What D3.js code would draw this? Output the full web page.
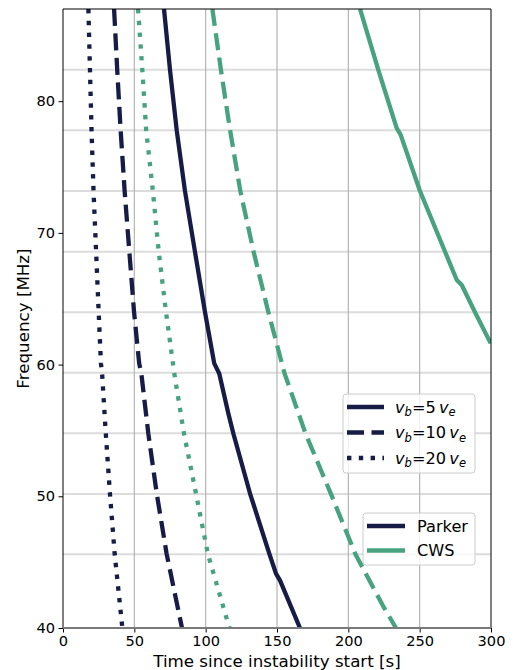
<!DOCTYPE html>
<html>
<head>
<meta charset="utf-8">
<script src="https://cdn.jsdelivr.net/npm/d3@7"></script>
<style>
  body { margin: 0; background: #fff; }
  text { font-family: "DejaVu Sans", sans-serif; fill: #000; }
</style>
</head>
<body>
<div id="chart-area"></div>
<script>
const MARGIN = { LEFT: 63, RIGHT: 23, TOP: 9, BOTTOM: 42 }
const WIDTH = 514 - MARGIN.LEFT - MARGIN.RIGHT
const HEIGHT = 670 - MARGIN.TOP - MARGIN.BOTTOM

const NAVY = "#161c46"
const GREEN = "#47a27f"

// [time s, frequency MHz]
const parker5 = [[70.8, 87], [75.0, 82.38], [79.7, 77.8], [85.5, 73.18], [92.5, 68.57], [99.5, 64.0],
  [106.0, 60.09], [109.5, 59.33], [115.9, 56.29], [119.4, 54.77], [131.1, 50.21], [144.6, 45.65],
  [149.3, 44.13], [152.1, 43.62], [166.1, 40]]
const parker10 = [[35.8, 87], [38.0, 82.38], [40.4, 77.8], [43.2, 73.18], [46.5, 68.57], [49.8, 64.0],
  [53.4, 60.09], [54.9, 59.33], [59.8, 54.77], [65.7, 50.21], [72.6, 45.65], [83.4, 40]]
const parker20 = [[17.8, 87], [18.9, 82.38], [20.0, 77.8], [21.4, 73.18], [23.2, 68.57], [25.0, 64.0],
  [26.6, 60.09], [27.4, 59.33], [30.0, 54.77], [32.9, 50.21], [36.2, 45.65], [41.6, 40]]
const cws5 = [[208.2, 87], [221.0, 82.38], [233.9, 77.95], [236.7, 77.44], [250.2, 73.18], [267.8, 68.57],
  [276.0, 66.42], [279.5, 66.04], [288.8, 63.97], [299.8, 61.61]]
const cws10 = [[104.7, 87], [110.7, 82.38], [117.1, 77.8], [124.3, 73.18], [133.6, 68.57], [143.9, 64.0],
  [155.3, 59.33], [170.0, 54.77], [187.8, 50.18], [205.0, 45.6], [224.1, 41.72], [233.4, 40]]
const cws20 = [[52.6, 87], [55.6, 82.38], [58.3, 77.8], [63.0, 73.18], [67.1, 68.57], [72.2, 64.0],
  [78.0, 59.33], [84.8, 54.77], [93.2, 50.21], [101.6, 45.6], [115.4, 40.46], [116.8, 40]]

const xTicks = [0, 50, 100, 150, 200, 250, 300]
const yTicks = [40, 50, 60, 70, 80]
// light horizontal grid (secondary axis)
const hGrid = [82.38, 77.8, 73.18, 68.57, 63.97, 59.38, 54.79, 50.18, 45.6]

const series = [
  { data: parker5, color: NAVY, dash: null },
  { data: parker10, color: NAVY, dash: "17,7.5" },
  { data: parker20, color: NAVY, dash: "4.4,7.4" },
  { data: cws5, color: GREEN, dash: null },
  { data: cws10, color: GREEN, dash: "17,7.5" },
  { data: cws20, color: GREEN, dash: "4.4,7.4" }
]

const svg = d3.select("#chart-area").append("svg")
  .attr("width", 514)
  .attr("height", 670)

const g = svg.append("g")
  .attr("transform", `translate(${MARGIN.LEFT}, ${MARGIN.TOP})`)

// scales
const x = d3.scaleLinear().domain([0, 300]).range([0, WIDTH])
const y = d3.scaleLinear().domain([40, 87]).range([HEIGHT, 0])

svg.append("defs").append("clipPath").attr("id", "plot-clip")
  .append("rect").attr("width", WIDTH).attr("height", HEIGHT)

// grids
g.selectAll(".hgrid").data(hGrid).enter().append("line")
  .attr("x1", 0).attr("x2", WIDTH)
  .attr("y1", d => y(d)).attr("y2", d => y(d))
  .attr("stroke", "#dcdcdc").attr("stroke-width", 2)

g.selectAll(".vgrid").data(xTicks.slice(1, -1)).enter().append("line")
  .attr("x1", d => x(d)).attr("x2", d => x(d))
  .attr("y1", 0).attr("y2", HEIGHT)
  .attr("stroke", "#b4b4b4").attr("stroke-width", 1.2)

// line path generator
const line = d3.line()
  .x(d => x(d[0]))
  .y(d => y(d[1]))

const curves = g.append("g").attr("clip-path", "url(#plot-clip)")
series.forEach(s => {
  curves.append("path")
    .attr("d", line(s.data))
    .attr("fill", "none")
    .attr("stroke", s.color)
    .attr("stroke-width", 4.3)
    .attr("stroke-dasharray", s.dash)
    .attr("stroke-linecap", "butt")
    .attr("stroke-linejoin", "round")
})

// axes
const xAxisCall = d3.axisBottom(x).tickValues(xTicks).tickSize(4.5).tickPadding(3)
const yAxisCall = d3.axisLeft(y).tickValues(yTicks).tickSize(4.5).tickPadding(3.5)

const xAxis = g.append("g")
  .attr("transform", `translate(0, ${HEIGHT})`)
  .call(xAxisCall)
const yAxis = g.append("g").call(yAxisCall)

;[xAxis, yAxis].forEach(a => {
  a.select(".domain").remove()
  a.selectAll("text").style("font-size", "14.6px").attr("fill", "#000")
  a.selectAll("line").attr("stroke", "#000").attr("stroke-width", 1)
})

// frame
g.append("line").attr("x1", 0).attr("x2", WIDTH).attr("y1", 0).attr("y2", 0).attr("stroke", "#000")
g.append("line").attr("x1", 0).attr("x2", 0).attr("y1", 0).attr("y2", HEIGHT).attr("stroke", "#000")
g.append("line").attr("x1", WIDTH).attr("x2", WIDTH).attr("y1", 0).attr("y2", HEIGHT).attr("stroke", "#000")
g.append("line").attr("x1", 0).attr("x2", WIDTH).attr("y1", HEIGHT).attr("y2", HEIGHT)
  .attr("stroke", "#7a7a7a").attr("stroke-width", 2)

// axis titles
svg.append("text")
  .attr("x", MARGIN.LEFT + WIDTH / 2)
  .attr("y", 667)
  .attr("text-anchor", "middle")
  .style("font-size", "16.7px")
  .text("Time since instability start [s]")

svg.append("text")
  .attr("transform", `translate(29, ${MARGIN.TOP + HEIGHT / 2}) rotate(-90)`)
  .attr("text-anchor", "middle")
  .style("font-size", "16.7px")
  .text("Frequency [MHz]")

// legends
function legendBox(x0, y0, w, h) {
  svg.append("rect")
    .attr("x", x0).attr("y", y0).attr("width", w).attr("height", h)
    .attr("rx", 3)
    .attr("fill", "#fff").attr("fill-opacity", 0.8)
    .attr("stroke", "#cccccc").attr("stroke-width", 1)
}

const speedLabels = ["5", "10", "20"]
const speedDash = [null, "17,7.5", "4.4,7.4"]
legendBox(343, 394, 132, 79)
speedLabels.forEach((v, i) => {
  const yy = 407 + i * 25.5
  svg.append("line")
    .attr("x1", 347).attr("x2", 384).attr("y1", yy).attr("y2", yy)
    .attr("stroke", NAVY).attr("stroke-width", 4.3)
    .attr("stroke-dasharray", speedDash[i])
  const t = svg.append("text")
    .attr("x", 395).attr("y", yy + 5.5)
    .style("font-size", "16.2px")
  t.append("tspan").style("font-style", "italic").text("v")
  t.append("tspan").style("font-style", "italic").style("font-size", "11.5px")
    .attr("dy", 3.5).text("b")
  t.append("tspan").attr("dy", -3.5).text("=" + v + "\u2009")
  t.append("tspan").style("font-style", "italic").text("v")
  t.append("tspan").style("font-style", "italic").style("font-size", "11.5px")
    .attr("dy", 3.5).text("e")
})

const modelNames = ["Parker", "CWS"]
const modelColors = [NAVY, GREEN]
legendBox(363, 513, 112, 52)
modelNames.forEach((m, i) => {
  const yy = 526 + i * 24.5
  svg.append("line")
    .attr("x1", 367).attr("x2", 405).attr("y1", yy).attr("y2", yy)
    .attr("stroke", modelColors[i]).attr("stroke-width", 4.3)
  svg.append("text")
    .attr("x", 417).attr("y", yy + 5.8)
    .style("font-size", "16.2px")
    .text(m)
})
</script>
</body>
</html>
